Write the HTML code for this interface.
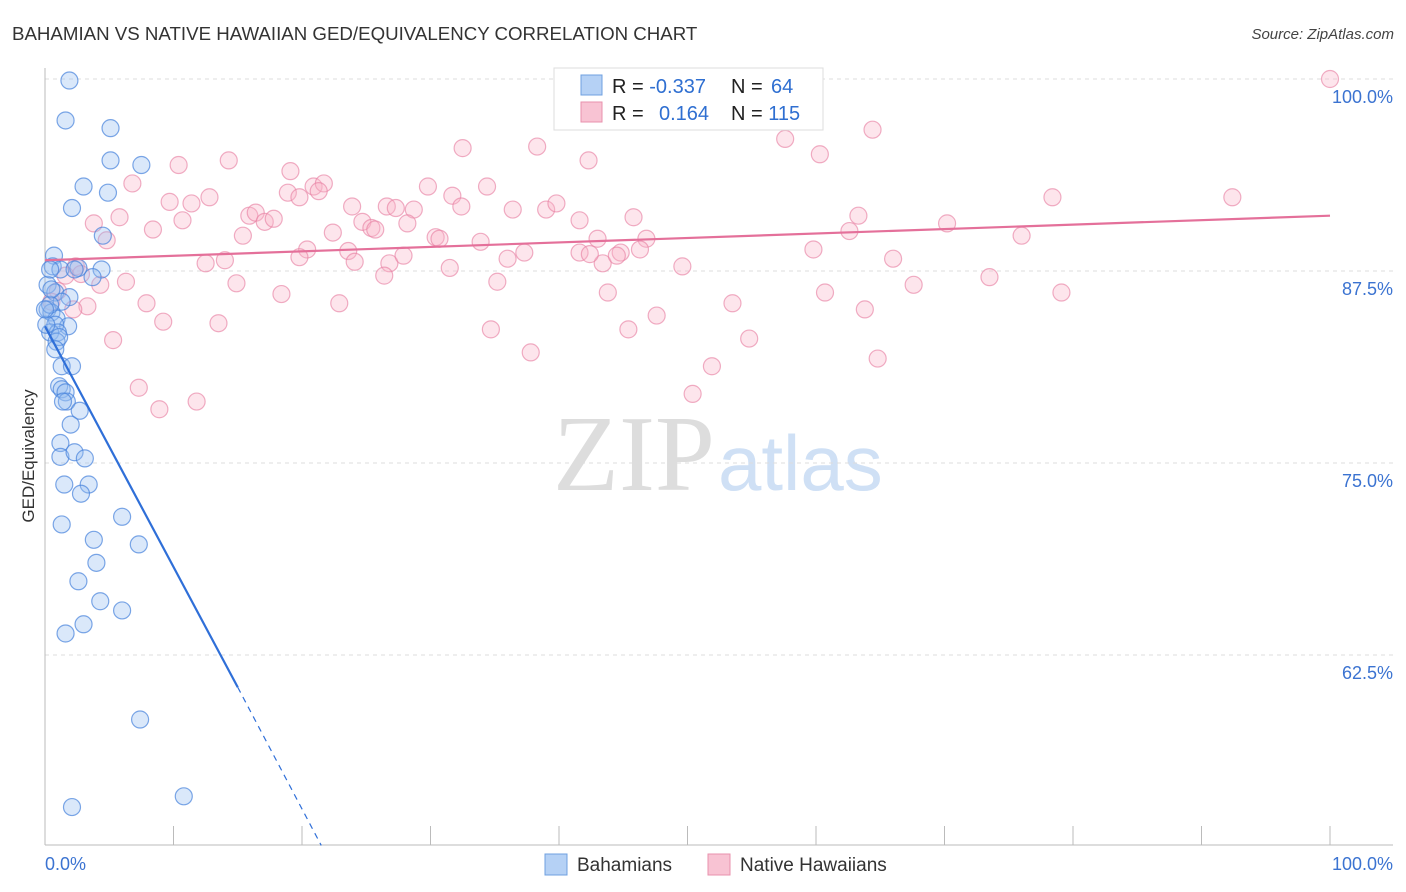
<!DOCTYPE html>
<html><head><meta charset="utf-8"><style>
body{margin:0;background:#fff;font-family:"Liberation Sans",sans-serif}
svg{display:block}
</style></head><body>
<svg id="c" width="1406" height="892">
<text x="12" y="40" font-size="18.7" fill="#333">BAHAMIAN VS NATIVE HAWAIIAN GED/EQUIVALENCY CORRELATION CHART</text>
<text x="1394" y="39" font-size="15" fill="#444" text-anchor="end" font-style="italic">Source: ZipAtlas.com</text>
<text x="715" y="490" font-size="108" fill="#ddd" text-anchor="end" font-family="Liberation Serif">ZIP</text>
<text x="718" y="490" font-size="78" fill="#cfe0f5">atlas</text>
<text transform="translate(34,456) rotate(-90)" font-size="17" fill="#333" text-anchor="middle">GED/Equivalency</text>
<g id="grid"></g><g id="pts"></g><g id="lines"></g>
<g>
<rect x="554" y="68" width="269" height="62" fill="#fff" stroke="#ddd"/>
<rect x="581" y="75" width="21" height="20" fill="#b5d1f5" stroke="#6fa0e0"/>
<rect x="581" y="102" width="21" height="20" fill="#f8c3d3" stroke="#e891ad"/>
<text x="612" y="93" font-size="20" fill="#222">R = <tspan fill="#2f6fd1">-0.337</tspan></text>
<text x="731" y="93" font-size="20" fill="#222">N = <tspan fill="#2f6fd1" x="771">64</tspan></text>
<text x="612" y="120" font-size="20" fill="#222">R = <tspan fill="#2f6fd1" x="659">0.164</tspan></text>
<text x="731" y="120" font-size="20" fill="#222">N = <tspan fill="#2f6fd1">115</tspan></text>
</g>
<g>
<rect x="545" y="854" width="22" height="21" fill="#b5d1f5" stroke="#6fa0e0"/>
<text x="577" y="871" font-size="19" fill="#333">Bahamians</text>
<rect x="708" y="854" width="22" height="21" fill="#f8c3d3" stroke="#e891ad"/>
<text x="740" y="871" font-size="19" fill="#333">Native Hawaiians</text>
</g>
</svg>
<script>
const yTicks=[100,87.5,75,62.5];
const yTickLabels=["100.0%","87.5%","75.0%","62.5%"];
const xTicks=[0,10,20,30,40,50,60,70,80,90,100];
const blueX=[1.9,1.6,5.1,5.1,7.5,3.0,4.9,2.1,4.5,0.7,0.6,2.6,4.4,3.7,1.2,0.2,0.8,1.9,1.3,0.2,0.5,0.9,1.8,0.8,0.4,1.0,0.9,1.3,2.1,1.1,1.3,1.6,1.7,1.4,2.7,2.0,1.2,1.2,2.3,3.1,1.5,3.4,2.8,6.0,1.3,3.8,7.3,4.0,2.6,4.3,6.0,3.0,1.6,7.4,2.1,10.8,0.4,0.1,0.5,1.1,0.0,0.4,2.3,0.8];
const blueY=[99.9,97.3,96.8,94.7,94.4,93.0,92.6,91.6,89.8,88.5,87.8,87.7,87.6,87.1,87.6,86.6,86.1,85.8,85.5,85.0,84.8,84.4,83.9,84.0,83.5,83.5,82.9,81.3,81.3,80.0,79.8,79.6,79.0,79.0,78.4,77.5,76.3,75.4,75.7,75.3,73.6,73.6,73.0,71.5,71.0,70.0,69.7,68.5,67.3,66.0,65.4,64.5,63.9,58.3,52.6,53.3,85.3,84.0,86.3,83.2,85.0,87.6,87.6,82.4];
const pinkX=[59.2,100,64.4,57.6,60.3,32.5,38.3,42.3,10.4,14.3,19.1,6.8,20.9,21.7,29.8,34.4,21.3,18.9,12.8,9.7,11.4,23.9,31.7,32.4,26.6,28.7,27.3,36.4,39.0,39.8,78.4,92.4,3.8,5.8,10.7,15.9,16.4,17.1,17.8,24.7,25.4,25.7,28.2,41.6,45.8,63.3,70.2,8.4,15.4,22.4,30.4,33.9,43.0,46.8,62.6,76.0,4.8,20.4,19.8,23.6,36.0,37.3,41.6,44.8,46.3,59.8,12.5,14.0,24.1,26.8,27.9,31.5,26.4,35.2,43.4,44.5,49.6,66.0,73.5,2.4,1.6,6.3,4.3,14.9,18.4,22.9,43.8,60.7,53.5,67.6,79.1,3.3,2.2,7.9,9.2,13.5,47.6,63.8,34.7,45.4,5.3,54.8,37.8,64.8,51.9,7.3,11.8,8.9,50.4,42.4,30.7,19.8,1.0,0.5,2.8];
const pinkY=[100.0,100,96.7,96.1,95.1,95.5,95.6,94.7,94.4,94.7,94.0,93.2,93.0,93.2,93.0,93.0,92.7,92.6,92.3,92.0,91.9,91.7,92.4,91.7,91.7,91.5,91.6,91.5,91.5,91.9,92.3,92.3,90.6,91.0,90.8,91.1,91.3,90.7,90.9,90.7,90.3,90.2,90.6,90.8,91.0,91.1,90.6,90.2,89.8,90.0,89.7,89.4,89.6,89.6,90.1,89.8,89.5,88.9,88.4,88.8,88.3,88.7,88.7,88.7,88.9,88.9,88.0,88.2,88.1,88.0,88.5,87.7,87.2,86.8,88.0,88.5,87.8,88.3,87.1,87.8,87.2,86.8,86.6,86.7,86.0,85.4,86.1,86.1,85.4,86.6,86.1,85.2,85.0,85.4,84.2,84.1,84.6,85.0,83.7,83.7,83.0,83.1,82.2,81.8,81.3,79.9,79.0,78.5,79.5,88.6,89.6,92.3,86.2,85.5,87.3];
const blueTrend=[[0,83.9],[15,60.4]];
const blueDash=[[15,60.4],[21.5,50.1]];
const pinkTrend=[[0,88.2],[100,91.1]];

const X=v=>45+v*12.85, Y=v=>79+(100-v)*15.36;
const NS="http://www.w3.org/2000/svg";
function mk(t,a,p){const e=document.createElementNS(NS,t);for(const k in a)e.setAttribute(k,a[k]);p.appendChild(e);return e;}
const g=document.getElementById('grid'),P=document.getElementById('pts'),L=document.getElementById('lines');
yTicks.forEach((t,i)=>{
 const l=mk('line',{x1:45,x2:1393,y1:Y(t),y2:Y(t),stroke:'#ddd','stroke-dasharray':'4,4'},g);
 
 
 const tx=mk('text',{x:1393,y:Y(t)+24,'font-size':18,fill:'#3b73d1','text-anchor':'end'},g);
 tx.textContent=yTickLabels[i];
 
 
});
mk('line',{x1:45,x2:45,y1:68,y2:845,stroke:'#bbb'},g);
mk('line',{x1:45,x2:1393,y1:845,y2:845,stroke:'#bbb'},g);
xTicks.forEach(t=>{
 const l=mk('line',{x1:X(t),x2:X(t),y1:826,y2:845,stroke:'#bbb'},g);
 
 
});
const x0=mk('text',{x:45,y:870,'font-size':18,fill:'#3b73d1'},g);x0.textContent='0.0%';


const x1=mk('text',{x:1393,y:870,'font-size':18,fill:'#3b73d1','text-anchor':'end'},g);x1.textContent='100.0%';


pinkX.forEach((v,i)=>{
 const c=mk('circle',{cx:X(v),cy:Y(pinkY[i]),r:8.5,fill:'rgba(248,180,200,0.35)',stroke:'rgba(232,130,165,0.65)','stroke-width':1.2},P);
 
 
});
blueX.forEach((v,i)=>{
 const c=mk('circle',{cx:X(v),cy:Y(blueY[i]),r:8.5,fill:'rgba(150,190,240,0.35)',stroke:'rgba(70,130,220,0.7)','stroke-width':1.2},P);
 
 
});
const bl=mk('line',{x1:X(blueTrend[0][0]),y1:Y(blueTrend[0][1]),x2:X(blueTrend[1][0]),y2:Y(blueTrend[1][1]),stroke:'#2f6fd8','stroke-width':2.2},L);


const bd=mk('line',{x1:X(blueDash[0][0]),y1:Y(blueDash[0][1]),x2:X(blueDash[1][0]),y2:Y(blueDash[1][1]),stroke:'#2f6fd8','stroke-width':1.2,'stroke-dasharray':'6,5'},L);


const pl=mk('line',{x1:X(pinkTrend[0][0]),y1:Y(pinkTrend[0][1]),x2:X(pinkTrend[1][0]),y2:Y(pinkTrend[1][1]),stroke:'#e4709a','stroke-width':2.2},L);


</script>
</body></html>
